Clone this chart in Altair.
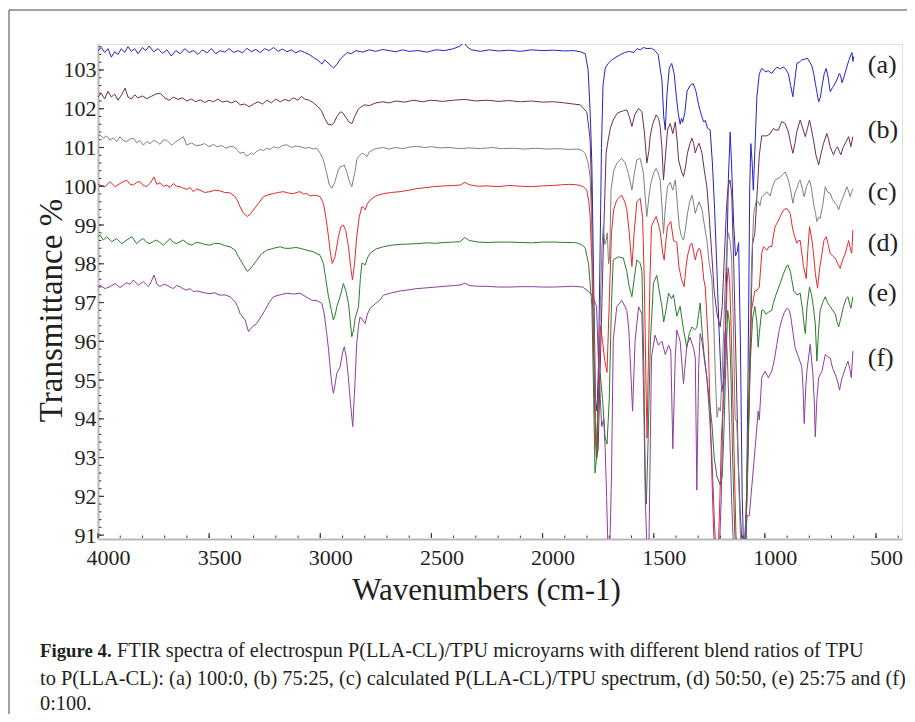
import altair as alt
import pandas as pd
import numpy as np

SERIF = "Liberation Serif"
INK = "#231f20"
W, H = 804, 495

SERIES = ["(a)", "(b)", "(c)", "(d)", "(e)", "(f)"]
COLORS = ["#2424c8", "#6e2c58", "#808080", "#e42a2a", "#2b7b2b", "#8e3e9e"]

# (wavenumber cm-1, transmittance %)
SPEC_A = [(4000,103.50),(3985,103.58),(3970,103.45),(3955,103.55),(3940,103.33),(3925,103.47),(3910,103.40),(3895,103.55),(3880,103.45),(3865,103.60),(3850,103.48),(3835,103.55),(3820,103.42),(3800,103.58),(3785,103.50),(3770,103.62),(3750,103.47),(3730,103.55),(3710,103.43),(3690,103.52),(3670,103.36),(3650,103.50),(3630,103.42),(3610,103.55),(3590,103.45),(3570,103.50),(3550,103.40),(3530,103.52),(3510,103.44),(3490,103.55),(3470,103.42),(3450,103.50),(3430,103.46),(3410,103.55),(3390,103.45),(3370,103.50),(3350,103.44),(3330,103.56),(3310,103.47),(3290,103.53),(3270,103.45),(3250,103.55),(3230,103.50),(3210,103.58),(3190,103.48),(3170,103.54),(3150,103.47),(3130,103.52),(3110,103.44),(3090,103.50),(3070,103.45),(3050,103.40),(3030,103.32),(3010,103.25),(2993,103.15),(2980,103.26),(2965,103.18),(2950,103.10),(2940,103.05),(2925,103.15),(2910,103.28),(2895,103.36),(2880,103.45),(2860,103.42),(2840,103.50),(2810,103.46),(2780,103.52),(2750,103.48),(2720,103.53),(2690,103.50),(2660,103.47),(2630,103.52),(2600,103.48),(2560,103.50),(2520,103.46),(2480,103.52),(2440,103.50),(2400,103.55),(2370,103.62),(2355,103.72),(2340,103.60),(2320,103.52),(2280,103.48),(2240,103.52),(2200,103.49),(2150,103.51),(2100,103.48),(2050,103.52),(2000,103.50),(1950,103.51),(1900,103.49),(1860,103.50),(1830,103.47),(1808,103.42),(1795,103.00),(1785,101.80),(1778,100.50),(1770,97.50),(1762,94.50),(1755,94.20),(1748,95.50),(1742,98.00),(1735,101.00),(1728,102.60),(1718,103.05),(1705,103.17),(1690,103.25),(1670,103.33),(1651,103.39),(1630,103.45),(1610,103.48),(1590,103.45),(1575,103.55),(1561,103.52),(1545,103.58),(1530,103.55),(1510,103.56),(1495,103.50),(1480,103.40),(1470,103.00),(1463,102.74),(1455,101.80),(1448,101.45),(1440,102.40),(1430,103.05),(1419,103.17),(1408,102.90),(1398,102.30),(1390,101.90),(1381,101.60),(1375,101.75),(1370,101.65),(1360,101.90),(1350,102.45),(1336,102.60),(1322,102.65),(1310,102.45),(1298,102.10),(1284,101.80),(1275,101.66),(1268,101.70),(1258,101.50),(1246,101.45),(1236,100.60),(1226,99.40),(1216,97.90),(1206,96.30),(1198,95.20),(1194,94.70),(1188,94.90),(1180,95.50),(1172,97.80),(1164,100.20),(1156,101.40),(1150,100.60),(1140,99.00),(1132,98.20),(1125,98.30),(1118,98.55),(1110,96.00),(1102,92.00),(1095,90.50),(1085,90.50),(1075,95.50),(1068,100.00),(1063,101.10),(1057,100.60),(1052,99.90),(1045,100.90),(1036,102.30),(1025,102.90),(1014,103.04),(995,102.95),(985,102.98),(969,102.91),(958,103.00),(946,103.07),(930,103.03),(916,103.08),(904,103.00),(894,102.90),(884,102.60),(874,102.31),(866,102.70),(856,103.17),(845,103.20),(834,103.26),(820,103.28),(808,103.30),(798,103.20),(788,103.10),(780,102.90),(773,102.66),(765,102.40),(758,102.18),(750,102.30),(743,102.58),(733,102.90),(724,103.04),(715,102.80),(706,102.44),(695,102.55),(683,102.66),(672,102.80),(665,102.91),(659,102.85),(653,102.67),(645,102.80),(631,103.08),(622,103.25),(613,103.39),(608,103.45),(604,103.22),(600,103.35)]

SPEC_B = [(4000,102.30),(3985,102.40),(3970,102.25),(3955,102.45),(3940,102.30),(3925,102.38),(3910,102.22),(3895,102.35),(3878,102.53),(3865,102.30),(3850,102.25),(3835,102.36),(3820,102.28),(3800,102.33),(3780,102.26),(3760,102.32),(3740,102.38),(3720,102.40),(3700,102.28),(3680,102.22),(3660,102.30),(3640,102.24),(3620,102.28),(3600,102.20),(3580,102.25),(3560,102.18),(3540,102.23),(3520,102.16),(3500,102.22),(3480,102.18),(3460,102.25),(3440,102.17),(3420,102.20),(3400,102.15),(3380,102.20),(3360,102.10),(3340,102.12),(3320,102.05),(3300,102.12),(3280,102.18),(3260,102.12),(3240,102.22),(3220,102.15),(3200,102.25),(3180,102.18),(3160,102.24),(3140,102.20),(3120,102.28),(3100,102.22),(3085,102.32),(3070,102.25),(3050,102.22),(3030,102.15),(3010,102.05),(2995,101.95),(2980,101.75),(2965,101.60),(2950,101.58),(2940,101.62),(2925,101.80),(2910,101.92),(2900,101.90),(2885,101.78),(2870,101.65),(2857,101.62),(2845,101.80),(2830,101.98),(2821,102.03),(2800,102.10),(2780,102.08),(2750,102.15),(2718,102.18),(2690,102.15),(2660,102.20),(2620,102.17),(2580,102.22),(2540,102.18),(2500,102.22),(2450,102.19),(2400,102.22),(2350,102.24),(2300,102.20),(2250,102.22),(2200,102.19),(2150,102.21),(2100,102.18),(2050,102.20),(2000,102.17),(1950,102.18),(1900,102.15),(1860,102.12),(1830,102.10),(1815,102.00),(1801,101.92),(1792,101.50),(1786,101.19),(1780,100.00),(1773,97.50),(1765,94.50),(1758,93.00),(1750,93.20),(1742,95.00),(1733,97.00),(1725,98.80),(1714,100.86),(1705,101.19),(1695,101.50),(1682,101.71),(1665,101.88),(1651,101.92),(1635,101.95),(1621,101.97),(1610,101.80),(1598,101.54),(1585,101.85),(1568,102.01),(1553,101.92),(1542,101.40),(1531,100.60),(1522,100.90),(1516,101.28),(1505,101.60),(1489,101.84),(1478,101.75),(1471,101.54),(1463,101.00),(1456,100.16),(1447,100.80),(1438,101.45),(1426,101.62),(1414,101.36),(1403,101.66),(1395,101.20),(1388,100.68),(1376,100.40),(1366,100.25),(1357,100.50),(1348,100.86),(1337,101.10),(1328,101.24),(1320,101.10),(1313,100.86),(1305,101.00),(1296,101.11),(1283,100.86),(1272,100.40),(1261,99.99),(1250,99.20),(1238,98.18),(1228,97.30),(1215,96.70),(1201,96.37),(1192,96.90),(1182,98.20),(1172,99.50),(1165,100.00),(1157,100.16),(1149,99.80),(1140,98.00),(1130,95.50),(1120,93.00),(1110,91.50),(1100,90.50),(1090,90.50),(1080,92.00),(1072,94.00),(1063,96.50),(1055,98.50),(1045,98.80),(1035,99.80),(1025,100.80),(1014,101.30),(992,101.30),(977,101.35),(962,101.49),(950,101.45),(939,101.45),(924,101.67),(909,101.62),(894,101.40),(884,101.10),(874,100.85),(865,101.10),(856,101.41),(841,101.71),(830,101.50),(818,101.28),(808,101.50),(799,101.71),(790,101.45),(781,101.19),(770,100.80),(758,100.55),(747,100.85),(736,101.11),(721,101.36),(713,101.20),(706,101.02),(698,100.90),(691,100.81),(682,100.95),(673,101.02),(665,100.90),(658,100.81),(648,101.00),(638,101.11),(623,101.28),(613,101.02),(604,101.28)]

SPEC_C = [(4000,101.30),(3991,101.32),(3976,101.24),(3961,101.30),(3946,101.19),(3931,101.25),(3916,101.15),(3901,101.28),(3886,101.18),(3871,101.15),(3856,101.22),(3841,101.24),(3826,101.12),(3811,101.18),(3796,101.06),(3781,101.15),(3766,101.10),(3751,101.18),(3736,101.15),(3721,101.08),(3706,101.20),(3691,101.19),(3676,101.10),(3668,101.06),(3650,101.15),(3631,101.22),(3616,101.28),(3601,101.06),(3580,101.12),(3560,101.05),(3541,101.06),(3520,101.10),(3500,101.02),(3480,101.08),(3466,101.02),(3445,101.05),(3425,100.98),(3405,101.03),(3391,101.02),(3375,100.95),(3361,100.85),(3345,100.88),(3333,100.78),(3323,100.80),(3310,100.86),(3300,100.82),(3286,100.90),(3270,100.95),(3255,100.92),(3241,100.98),(3225,100.95),(3210,101.02),(3190,100.98),(3170,101.05),(3151,101.07),(3130,101.00),(3110,101.04),(3091,101.02),(3070,100.98),(3050,101.00),(3030,100.96),(3016,100.98),(3000,100.85),(2986,100.68),(2972,100.35),(2960,100.05),(2948,99.95),(2935,100.10),(2920,100.40),(2911,100.50),(2900,100.52),(2892,100.55),(2880,100.35),(2868,100.10),(2858,99.99),(2845,100.35),(2835,100.70),(2828,100.76),(2815,100.84),(2806,100.85),(2791,100.76),(2780,100.88),(2760,100.95),(2740,100.98),(2716,101.00),(2690,100.96),(2660,101.00),(2630,100.97),(2600,101.01),(2566,101.03),(2530,101.00),(2500,101.02),(2460,100.99),(2420,101.00),(2371,100.97),(2330,100.99),(2280,100.97),(2230,101.00),(2180,100.97),(2130,100.98),(2080,100.96),(2030,100.98),(1980,100.96),(1930,100.97),(1880,100.95),(1840,100.96),(1820,100.92),(1808,100.84),(1795,100.60),(1786,100.24),(1778,98.87),(1770,96.50),(1762,94.00),(1755,93.30),(1748,94.50),(1740,97.00),(1733,98.40),(1727,98.96),(1720,98.50),(1714,98.61),(1709,98.80),(1703,98.00),(1698,98.20),(1692,99.90),(1680,100.40),(1666,100.59),(1644,100.72),(1628,100.60),(1614,100.33),(1598,99.90),(1588,100.30),(1576,100.68),(1561,100.72),(1546,100.33),(1538,99.70),(1531,99.22),(1520,99.80),(1513,100.07),(1500,100.35),(1489,100.46),(1480,100.35),(1471,100.16),(1463,99.50),(1456,98.78),(1447,99.50),(1438,99.99),(1426,100.10),(1414,99.90),(1403,100.16),(1393,99.50),(1385,98.96),(1375,98.70),(1366,98.61),(1357,98.90),(1348,99.30),(1338,99.60),(1328,99.77),(1320,99.55),(1313,99.30),(1305,99.45),(1296,99.60),(1283,99.40),(1272,99.00),(1261,98.61),(1250,98.00),(1238,97.58),(1230,96.50),(1222,95.00),(1215,94.04),(1208,94.30),(1200,94.20),(1190,95.50),(1180,97.20),(1170,98.50),(1164,98.80),(1157,98.60),(1150,98.20),(1142,96.50),(1134,94.04),(1126,93.90),(1118,92.50),(1110,91.00),(1100,90.50),(1090,90.50),(1080,92.00),(1070,95.00),(1060,98.00),(1050,99.30),(1040,99.60),(1030,99.60),(1022,99.50),(1014,99.73),(1000,99.80),(992,99.86),(976,99.75),(965,100.00),(954,100.16),(940,100.20),(931,100.24),(920,100.30),(909,100.37),(900,100.25),(894,100.16),(884,99.90),(874,99.56),(866,99.80),(856,99.94),(848,100.10),(841,100.16),(832,99.95),(823,99.73),(812,100.00),(799,100.16),(790,99.95),(781,99.56),(772,99.30),(766,99.09),(758,99.20),(751,99.17),(740,99.50),(728,99.99),(718,99.85),(706,99.82),(695,99.65),(683,99.56),(675,99.50),(668,99.39),(660,99.55),(653,99.65),(643,99.80),(631,99.99),(622,99.85),(616,99.73),(610,99.85),(604,99.94)]

SPEC_D = [(4000,100.05),(3991,100.03),(3968,99.99),(3946,100.12),(3923,99.99),(3901,100.07),(3871,100.16),(3856,100.05),(3841,100.03),(3826,100.10),(3811,100.12),(3796,100.02),(3781,99.99),(3765,100.08),(3748,100.24),(3735,100.05),(3721,100.09),(3706,100.00),(3691,100.03),(3676,99.97),(3661,100.07),(3646,100.00),(3631,99.99),(3616,99.95),(3601,99.92),(3586,99.97),(3571,99.86),(3556,99.93),(3541,99.90),(3520,99.84),(3496,99.86),(3475,99.90),(3451,99.88),(3430,99.84),(3406,99.83),(3383,99.73),(3372,99.62),(3361,99.47),(3345,99.30),(3328,99.22),(3315,99.28),(3301,99.39),(3278,99.56),(3256,99.73),(3235,99.78),(3211,99.81),(3190,99.84),(3166,99.86),(3140,99.82),(3121,99.81),(3100,99.85),(3091,99.86),(3075,99.80),(3061,99.81),(3045,99.75),(3031,99.77),(3015,99.76),(3001,99.73),(2986,99.56),(2975,99.20),(2963,98.70),(2955,98.30),(2946,98.01),(2934,98.18),(2918,98.70),(2908,98.95),(2896,99.00),(2885,98.85),(2873,98.44),(2863,97.90),(2855,97.58),(2846,98.00),(2836,98.70),(2825,99.20),(2813,99.47),(2805,99.45),(2798,99.39),(2788,99.55),(2776,99.64),(2750,99.75),(2716,99.81),(2680,99.84),(2641,99.86),(2600,99.90),(2566,99.94),(2530,99.96),(2491,99.99),(2440,100.01),(2400,100.02),(2371,100.03),(2350,100.10),(2330,100.04),(2290,100.00),(2250,100.01),(2200,99.99),(2150,100.02),(2100,100.00),(2050,99.99),(2000,100.01),(1950,100.02),(1910,100.04),(1880,100.05),(1850,100.04),(1830,100.02),(1815,99.98),(1801,99.90),(1792,99.60),(1786,99.22),(1778,98.00),(1770,95.50),(1762,93.50),(1755,93.00),(1748,95.00),(1740,96.40),(1730,96.00),(1720,95.50),(1710,95.20),(1700,97.00),(1690,98.80),(1680,99.40),(1666,99.65),(1644,99.77),(1630,99.60),(1621,99.40),(1610,98.80),(1598,97.93),(1588,98.80),(1576,99.60),(1561,99.69),(1550,99.20),(1542,97.50),(1535,95.00),(1530,93.50),(1524,95.50),(1516,97.80),(1510,98.96),(1500,99.10),(1489,99.22),(1478,99.00),(1470,98.80),(1460,98.30),(1453,98.10),(1445,98.60),(1438,98.96),(1423,99.09),(1411,98.60),(1396,98.55),(1386,97.90),(1375,97.60),(1363,97.41),(1355,97.90),(1348,98.20),(1335,98.50),(1328,98.53),(1320,98.30),(1313,98.10),(1305,98.30),(1296,98.40),(1290,98.35),(1283,98.10),(1275,97.60),(1268,97.40),(1255,96.00),(1245,94.00),(1238,92.50),(1230,91.00),(1220,90.50),(1210,90.50),(1202,92.00),(1195,93.60),(1190,94.10),(1185,94.50),(1178,96.00),(1170,97.50),(1165,97.90),(1158,97.50),(1150,96.00),(1140,93.50),(1130,91.00),(1120,90.50),(1090,90.50),(1080,92.50),(1070,95.00),(1060,96.80),(1045,97.30),(1035,97.32),(1025,97.40),(1014,98.27),(1006,98.44),(991,98.35),(980,98.45),(969,98.44),(962,98.70),(954,98.96),(940,99.10),(931,99.22),(916,99.39),(901,99.43),(886,99.30),(878,99.00),(871,98.80),(856,98.53),(848,98.60),(841,98.60),(826,97.93),(814,97.62),(806,98.40),(799,98.96),(788,98.60),(780,98.20),(773,97.75),(763,97.37),(753,97.90),(743,98.27),(734,98.60),(724,98.70),(715,98.50),(706,98.27),(695,98.20),(683,98.14),(672,98.00),(661,97.88),(650,98.10),(638,98.27),(630,98.45),(623,98.60),(616,98.40),(609,98.27),(604,98.87)]

SPEC_E = [(4000,98.70),(3991,98.74),(3976,98.61),(3961,98.70),(3938,98.57),(3916,98.65),(3893,98.52),(3871,98.61),(3848,98.70),(3826,98.52),(3811,98.60),(3796,98.65),(3781,98.55),(3766,98.52),(3751,98.58),(3736,98.61),(3721,98.55),(3706,98.48),(3691,98.56),(3676,98.65),(3661,98.55),(3646,98.52),(3631,98.57),(3616,98.61),(3597,98.52),(3578,98.48),(3560,98.55),(3541,98.54),(3520,98.50),(3496,98.48),(3475,98.53),(3451,98.52),(3430,98.47),(3406,98.44),(3383,98.35),(3368,98.18),(3346,97.97),(3328,97.80),(3308,97.92),(3286,98.09),(3265,98.25),(3241,98.35),(3210,98.40),(3181,98.44),(3160,98.40),(3136,98.40),(3110,98.42),(3091,98.40),(3060,98.35),(3031,98.31),(3001,98.22),(2986,98.01),(2975,97.60),(2963,97.15),(2950,96.80),(2941,96.55),(2932,96.70),(2926,96.89),(2911,97.15),(2896,97.49),(2885,97.30),(2873,96.98),(2865,96.50),(2858,96.12),(2850,96.30),(2843,96.60),(2828,96.89),(2820,97.60),(2813,98.01),(2805,98.00),(2798,97.97),(2788,98.15),(2776,98.27),(2750,98.38),(2716,98.44),(2680,98.48),(2640,98.50),(2600,98.51),(2566,98.52),(2520,98.54),(2480,98.53),(2440,98.55),(2400,98.56),(2371,98.57),(2350,98.68),(2330,98.60),(2290,98.56),(2250,98.55),(2200,98.56),(2150,98.56),(2100,98.55),(2050,98.54),(2000,98.56),(1950,98.56),(1900,98.55),(1860,98.55),(1840,98.53),(1820,98.48),(1808,98.40),(1793,98.00),(1778,96.90),(1770,94.50),(1764,92.60),(1757,93.00),(1750,94.50),(1741,95.17),(1730,94.50),(1719,93.54),(1710,93.35),(1700,94.50),(1690,97.00),(1682,98.10),(1660,98.18),(1637,98.15),(1621,97.80),(1610,97.40),(1598,97.15),(1588,97.60),(1576,98.10),(1560,98.00),(1553,97.80),(1545,95.50),(1538,92.50),(1533,91.80),(1525,93.50),(1515,96.00),(1501,97.50),(1486,97.70),(1475,97.30),(1463,96.90),(1455,96.50),(1445,96.80),(1433,97.24),(1420,97.10),(1411,97.20),(1396,96.65),(1381,96.90),(1366,96.30),(1351,95.84),(1340,96.20),(1328,96.37),(1315,96.30),(1306,96.35),(1298,96.70),(1291,96.99),(1283,96.30),(1275,95.75),(1261,95.06),(1250,94.50),(1238,93.87),(1228,93.00),(1215,92.50),(1201,92.30),(1192,92.50),(1185,93.50),(1175,95.50),(1167,96.80),(1160,96.50),(1152,95.00),(1145,93.00),(1135,91.00),(1125,90.50),(1095,90.50),(1085,91.50),(1075,93.50),(1065,95.50),(1055,96.60),(1045,96.90),(1036,96.50),(1030,95.85),(1025,96.20),(1014,96.80),(1006,96.80),(995,96.70),(984,96.75),(969,96.80),(962,96.98),(950,97.20),(931,97.50),(916,97.75),(901,97.95),(896,97.97),(885,97.80),(879,97.60),(870,97.30),(856,97.20),(841,97.24),(830,96.80),(823,96.40),(818,96.20),(810,96.90),(799,97.40),(790,97.20),(782,96.90),(773,96.45),(766,95.49),(758,96.30),(751,96.80),(740,97.00),(728,97.15),(718,97.00),(706,96.90),(695,96.80),(683,96.70),(675,96.50),(668,96.37),(658,96.60),(646,96.90),(635,97.10),(626,97.15),(618,96.95),(613,96.85),(604,97.15)]

SPEC_F = [(4000,97.40),(3991,97.45),(3968,97.36),(3946,97.41),(3923,97.49),(3901,97.39),(3886,97.45),(3871,97.51),(3856,97.47),(3841,97.58),(3818,97.45),(3796,97.54),(3773,97.41),(3760,97.55),(3748,97.71),(3735,97.48),(3721,97.41),(3706,97.47),(3691,97.45),(3676,97.40),(3661,97.36),(3646,97.44),(3631,97.41),(3616,97.35),(3601,97.32),(3586,97.36),(3571,97.28),(3556,97.30),(3541,97.28),(3520,97.25),(3496,97.23),(3475,97.25),(3451,97.19),(3430,97.20),(3406,97.15),(3383,97.02),(3372,96.90),(3361,96.72),(3338,96.55),(3323,96.25),(3305,96.38),(3286,96.46),(3265,96.65),(3248,96.81),(3230,97.00),(3211,97.15),(3180,97.20),(3151,97.24),(3120,97.22),(3091,97.24),(3065,97.15),(3038,97.06),(3015,97.05),(2993,96.98),(2982,96.70),(2971,96.20),(2963,95.80),(2956,95.34),(2948,94.90),(2941,94.66),(2933,94.90),(2926,95.17),(2911,95.34),(2900,95.70),(2892,95.86),(2883,95.60),(2874,95.09),(2864,94.40),(2854,93.80),(2845,94.80),(2836,95.95),(2828,96.40),(2821,96.63),(2810,96.55),(2798,96.46),(2788,96.70),(2776,96.85),(2750,96.98),(2731,97.07),(2716,97.19),(2680,97.25),(2640,97.30),(2600,97.33),(2566,97.36),(2520,97.38),(2480,97.40),(2440,97.42),(2400,97.44),(2371,97.45),(2350,97.50),(2330,97.44),(2290,97.42),(2250,97.42),(2200,97.40),(2150,97.40),(2100,97.41),(2050,97.41),(2000,97.40),(1950,97.40),(1900,97.41),(1860,97.42),(1820,97.40),(1795,97.30),(1773,97.15),(1757,96.89),(1749,95.50),(1740,94.50),(1734,93.80),(1725,94.00),(1718,93.20),(1712,92.00),(1705,90.50),(1698,90.50),(1690,92.50),(1682,96.03),(1666,96.89),(1644,97.06),(1621,96.80),(1612,96.30),(1606,95.58),(1595,94.20),(1584,96.00),(1568,96.89),(1553,96.70),(1545,94.50),(1538,92.00),(1530,90.50),(1522,90.50),(1515,93.50),(1510,95.60),(1494,96.16),(1479,95.90),(1463,96.00),(1448,95.66),(1433,95.90),(1423,95.75),(1414,93.23),(1403,95.60),(1396,96.29),(1381,96.00),(1366,94.91),(1351,95.90),(1336,96.10),(1320,95.80),(1313,95.58),(1306,92.16),(1298,95.30),(1291,96.20),(1283,96.00),(1276,95.70),(1261,95.06),(1250,94.20),(1238,93.00),(1228,91.50),(1220,90.50),(1205,90.50),(1196,92.00),(1188,94.50),(1180,96.20),(1175,96.35),(1168,95.50),(1160,94.00),(1150,92.00),(1140,90.50),(1090,90.50),(1080,91.50),(1070,91.50),(1055,92.50),(1040,93.50),(1030,94.20),(1025,93.97),(1014,95.06),(999,95.23),(984,95.06),(969,95.23),(958,95.50),(946,95.92),(935,96.30),(924,96.55),(912,96.75),(901,96.85),(890,96.80),(883,96.62),(873,96.20),(864,95.84),(849,95.60),(834,95.35),(828,94.80),(823,93.88),(816,94.80),(811,95.23),(796,95.92),(784,95.16),(778,94.50),(773,93.54),(766,94.50),(758,95.06),(743,95.23),(728,95.66),(718,95.60),(706,95.57),(695,95.30),(683,95.15),(672,94.95),(664,94.74),(655,95.00),(646,95.16),(636,95.35),(626,95.49),(618,95.30),(611,95.06),(604,95.75)]

LABEL_WN = [537, 537, 537, 537, 537, 537]
LABEL_T = [103.13, 101.45, 99.85, 98.54, 97.25, 95.57]

X_TICKS = [4000, 3500, 3000, 2500, 2000, 1500, 1000, 500]
Y_TICKS = [91, 92, 93, 94, 95, 96, 97, 98, 99, 100, 101, 102, 103]
X_MINOR = list(range(4000, 399, -100))
Y_MINOR = [round(v, 1) for v in np.arange(91.0, 103.61, 0.2)]

CAPTION_BOLD = "Figure 4."
CAPTION_1 = "FTIR spectra of electrospun P(LLA-CL)/TPU microyarns with different blend ratios of TPU"
CAPTION_2 = "to P(LLA-CL): (a) 100:0, (b) 75:25, (c) calculated P(LLA-CL)/TPU spectrum, (d) 50:50, (e) 25:75 and (f)"
CAPTION_3 = "0:100."

rows = []
for name, spec in zip(SERIES, [SPEC_A, SPEC_B, SPEC_C, SPEC_D, SPEC_E, SPEC_F]):
    for i, (w, t) in enumerate(spec):
        rows.append({"series": name, "wn": w, "T": t, "i": i})
df = pd.DataFrame(rows)

xs = alt.Scale(domain=[383, 4000], reverse=True, nice=False, zero=False)
ys = alt.Scale(domain=[90.9, 103.67], nice=False, zero=False)

x_axis = alt.Axis(values=X_TICKS, format="d", labelOffset=10, ticks=False, tickSize=0,
                  labelPadding=8, labelFontSize=22, labelFont=SERIF, labelColor=INK,
                  labelFlush=False, labelOverlap=False, domainColor="#b8b8b8", domainWidth=2,
                  grid=False, title="Wavenumbers (cm-1)", titleFont=SERIF, titleFontSize=31,
                  titleFontWeight="normal", titleColor=INK, titleX=388, titleY=60,
                  titleBaseline="alphabetic", titleAlign="center")
y_axis = alt.Axis(values=Y_TICKS, format="d", ticks=False, tickSize=0, labelPadding=2,
                  labelFontSize=22, labelFont=SERIF, labelColor=INK, labelOverlap=False,
                  labelFlush=False, domainColor="#b8b8b8", domainWidth=2, grid=False,
                  title="Transmittance %", titleFont=SERIF, titleFontSize=33,
                  titleFontWeight="normal", titleColor=INK, titleAngle=270, titleX=-37,
                  titleY=266, titleAlign="center", titleBaseline="alphabetic")


def xenc():
    return alt.X("wn:Q", scale=xs, axis=x_axis)


def yenc():
    return alt.Y("T:Q", scale=ys, axis=y_axis)


lines = alt.Chart(df).mark_line(strokeWidth=1, clip=True).encode(
    x=xenc(), y=yenc(),
    color=alt.Color("series:N", scale=alt.Scale(domain=SERIES, range=COLORS), legend=None),
    order="i:Q",
)

labels = alt.Chart(pd.DataFrame({"wn": LABEL_WN, "T": LABEL_T, "lab": SERIES})).mark_text(
    align="left", baseline="middle", font=SERIF, fontSize=26, color=INK
).encode(x=xenc(), y=yenc(), text="lab:N")

tick_color = "#3a3a3a"
y_minor = alt.Chart(pd.DataFrame({"T": Y_MINOR})).mark_rule(color=tick_color, strokeWidth=1).encode(
    y=yenc(), x=alt.value(1), x2=alt.value(3.5))
y_major = alt.Chart(pd.DataFrame({"T": Y_TICKS})).mark_rule(color=tick_color, strokeWidth=1.2).encode(
    y=yenc(), x=alt.value(1), x2=alt.value(6))
x_minor = alt.Chart(pd.DataFrame({"wn": X_MINOR})).mark_rule(color=tick_color, strokeWidth=1).encode(
    x=xenc(), y=alt.value(H - 1), y2=alt.value(H - 3.5))
x_major = alt.Chart(pd.DataFrame({"wn": X_TICKS})).mark_rule(color=tick_color, strokeWidth=1.2).encode(
    x=xenc(), y=alt.value(H - 1), y2=alt.value(H - 6))


def caption(text, px, py, size=20.4, bold=False):
    return alt.Chart(pd.DataFrame({"t": [text]})).mark_text(
        align="left", baseline="alphabetic", font=SERIF, fontSize=size,
        fontWeight="bold" if bold else "normal", color=INK
    ).encode(x=alt.value(px), y=alt.value(py), text="t:N")


frame_v = alt.Chart(pd.DataFrame({"k": [0]})).mark_rule(color="#444444", strokeWidth=1).encode(
    x=alt.value(-89), y=alt.value(-34), y2=alt.value(700))
frame_h = alt.Chart(pd.DataFrame({"k": [0]})).mark_rule(color="#444444", strokeWidth=1).encode(
    x=alt.value(-89), x2=alt.value(830), y=alt.value(-34))

chart = alt.layer(
    lines, labels, y_minor, y_major, x_minor, x_major,
    caption(CAPTION_BOLD, -58, 613, size=18.8, bold=True),
    caption(CAPTION_1, 19, 613, size=20.2),
    caption(CAPTION_2, -58, 641, size=20.4),
    caption(CAPTION_3, -58, 666, size=20.4),
    frame_v, frame_h,
).properties(
    width=W, height=H,
    autosize=alt.AutoSizeParams(type="none"),
    padding={"left": 90, "top": 36, "right": 5, "bottom": 175},
).configure_view(stroke="#d6d6d6", strokeWidth=1.5).configure(background="white")

chart.save("out.html", embed_options={"renderer": "svg", "actions": False})
